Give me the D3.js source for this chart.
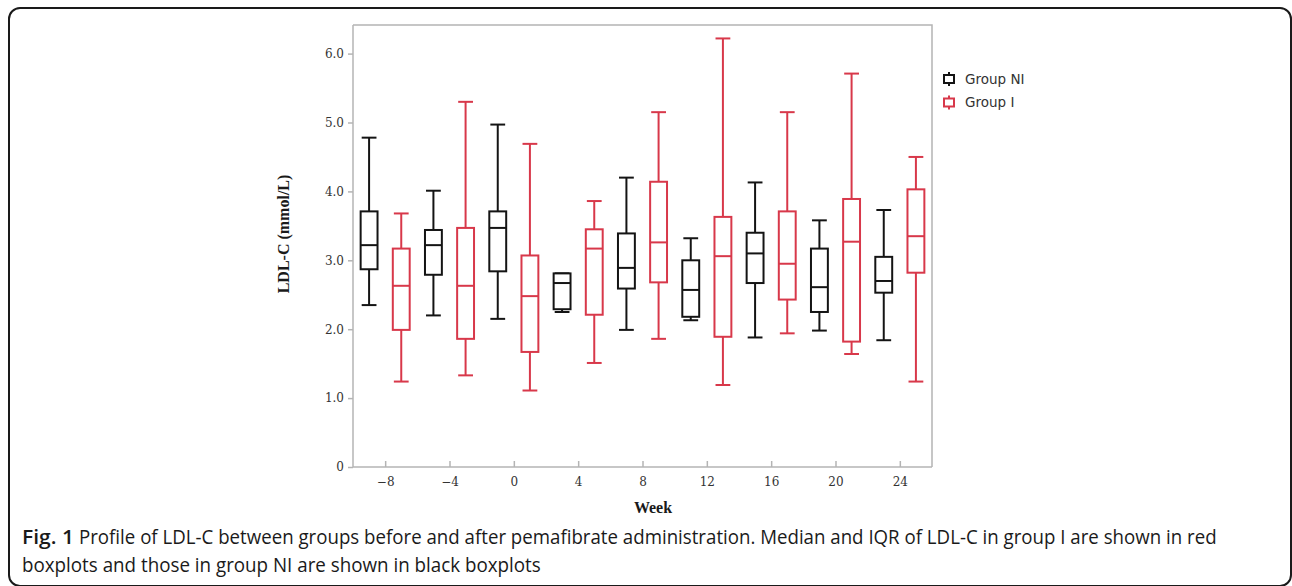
<!DOCTYPE html>
<html>
<head>
<meta charset="utf-8">
<script src="https://cdn.jsdelivr.net/npm/d3@7"></script>
<style>
  html, body { margin: 0; padding: 0; background: #fff; }
  svg { display: block; }
</style>
</head>
<body>
<div id="chart"></div>
<script>
// Weeks on the x axis
const weeks = [-8, -4, 0, 4, 8, 12, 16, 20, 24];
const xTicks = [-8, -4, 0, 4, 8, 12, 16, 20, 24];
const yTicks = [0, 1, 2, 3, 4, 5, 6];

// Group NI (black): whisker low, Q1, median, Q3, whisker high
const niLow    = [2.35, 2.20, 2.15, 2.25, 1.99, 2.13, 1.88, 1.98, 1.84];
const niQ1     = [2.87, 2.79, 2.84, 2.29, 2.59, 2.18, 2.67, 2.25, 2.53];
const niMedian = [3.22, 3.22, 3.47, 2.67, 2.89, 2.57, 3.10, 2.61, 2.70];
const niQ3     = [3.71, 3.44, 3.71, 2.81, 3.39, 3.00, 3.40, 3.17, 3.05];
const niHigh   = [4.78, 4.01, 4.97, 2.81, 4.20, 3.32, 4.13, 3.58, 3.73];

// Group I (red)
const iLow    = [1.24, 1.33, 1.11, 1.51, 1.86, 1.19, 1.94, 1.64, 1.24];
const iQ1     = [1.99, 1.86, 1.67, 2.21, 2.68, 1.89, 2.43, 1.82, 2.82];
const iMedian = [2.63, 2.63, 2.48, 3.17, 3.26, 3.06, 2.95, 3.27, 3.35];
const iQ3     = [3.17, 3.47, 3.07, 3.45, 4.14, 3.63, 3.71, 3.89, 4.03];
const iHigh   = [3.68, 5.30, 4.69, 3.86, 5.15, 6.22, 5.15, 5.71, 4.50];

const groups = [
  { name: 'Group NI', color: '#141414', offset: -1, low: niLow, q1: niQ1, med: niMedian, q3: niQ3, high: niHigh },
  { name: 'Group I',  color: '#d8384a', offset: 1,  low: iLow,  q1: iQ1,  med: iMedian,  q3: iQ3,  high: iHigh }
];

const W = 1292, H = 586;
const plot = { left: 353, right: 932, top: 25, bottom: 467 };

const svg = d3.select('#chart').append('svg')
  .attr('width', W).attr('height', H);

// outer rounded frame
svg.append('rect')
  .attr('x', 9).attr('y', 8)
  .attr('width', 1282).attr('height', 578)
  .attr('rx', 11).attr('ry', 11)
  .attr('fill', 'none')
  .attr('stroke', '#1a1a1a')
  .attr('stroke-width', 2);

const x = d3.scaleLinear().domain([-10, 26]).range([plot.left, plot.right]);
const y = d3.scaleLinear().domain([0, 6]).range([plot.bottom, 53.6]);

const axisColor = '#b4b4b4';

// plot frame (top + right)
svg.append('path')
  .attr('d', `M${plot.left},${plot.top}H${plot.right}V${plot.bottom}`)
  .attr('fill', 'none').attr('stroke', axisColor).attr('stroke-width', 1.5);

// y axis
const yAxis = svg.append('g')
  .attr('transform', `translate(${plot.left},0)`)
  .call(d3.axisLeft(y).tickValues(yTicks).tickSize(5).tickPadding(4)
    .tickFormat(d => d === 0 ? '0' : d3.format('.1f')(d)));
yAxis.select('.domain').attr('d', `M0,${plot.top}V${plot.bottom}`);

// x axis, ticks pointing inward
const xAxis = svg.append('g')
  .attr('transform', `translate(0,${plot.bottom})`)
  .call(d3.axisBottom(x).tickValues(xTicks).tickSize(-6).tickPadding(10)
    .tickFormat(d => d < 0 ? '\u2212' + Math.abs(d) : d));
xAxis.select('.domain').attr('d', `M${plot.left},0H${plot.right}`);

[yAxis, xAxis].forEach(a => {
  a.select('.domain').attr('stroke', axisColor).attr('stroke-width', 1.5);
  a.selectAll('.tick line').attr('stroke', axisColor).attr('stroke-width', 1.5);
  a.selectAll('.tick text')
    .attr('fill', '#333')
    .style('font-family', '"DejaVu Serif", serif')
    .style('font-size', '12px');
});

// axis titles
svg.append('text')
  .attr('transform', 'translate(289,234) rotate(-90)')
  .attr('text-anchor', 'middle')
  .style('font-family', '"Liberation Serif", "Times New Roman", serif')
  .style('font-weight', 'bold')
  .style('font-size', '16px')
  .attr('fill', '#1a1a1a')
  .text('LDL-C (mmol/L)');

svg.append('text')
  .attr('x', 653).attr('y', 513)
  .attr('text-anchor', 'middle')
  .style('font-family', '"Liberation Serif", "Times New Roman", serif')
  .style('font-weight', 'bold')
  .style('font-size', '16px')
  .attr('fill', '#1a1a1a')
  .text('Week');

// boxplots
const boxW = 1.05, capW = 0.92;
groups.forEach(g => {
  const layer = svg.append('g')
    .attr('stroke', g.color)
    .attr('stroke-width', 2)
    .attr('fill', 'none');

  weeks.forEach((wk, i) => {
    const c = wk + g.offset;
    const cx = x(c);
    // whiskers
    layer.append('line')
      .attr('x1', cx).attr('x2', cx)
      .attr('y1', y(g.q3[i])).attr('y2', y(g.high[i]));
    layer.append('line')
      .attr('x1', cx).attr('x2', cx)
      .attr('y1', y(g.q1[i])).attr('y2', y(g.low[i]));
    // caps
    [g.high[i], g.low[i]].forEach(v => {
      layer.append('line')
        .attr('x1', x(c - capW / 2)).attr('x2', x(c + capW / 2))
        .attr('y1', y(v)).attr('y2', y(v));
    });
    // box
    layer.append('rect')
      .attr('x', x(c - boxW / 2))
      .attr('width', x(c + boxW / 2) - x(c - boxW / 2))
      .attr('y', y(g.q3[i]))
      .attr('height', y(g.q1[i]) - y(g.q3[i]))
      .attr('fill', '#fff');
    // median
    layer.append('line')
      .attr('x1', x(c - boxW / 2)).attr('x2', x(c + boxW / 2))
      .attr('y1', y(g.med[i])).attr('y2', y(g.med[i]));
  });
});

// legend
const legend = svg.append('g').attr('transform', 'translate(949,79)');
groups.forEach((g, i) => {
  const row = legend.append('g').attr('transform', `translate(0,${i * 23.5})`);
  row.append('line').attr('x1', 0).attr('x2', 0).attr('y1', -7).attr('y2', 7)
    .attr('stroke', g.color).attr('stroke-width', 2);
  row.append('rect').attr('x', -5).attr('y', -4).attr('width', 10).attr('height', 8)
    .attr('fill', '#fff').attr('stroke', g.color).attr('stroke-width', 2);
  row.append('text')
    .attr('x', 16).attr('y', 0).attr('dy', '0.35em')
    .style('font-family', '"DejaVu Sans", Verdana, sans-serif')
    .style('font-size', '13.5px')
    .attr('fill', '#333')
    .text(g.name);
});

// caption: condensed look by squeezing each line horizontally to its width
const capFont = '"Open Sans", "Noto Sans", sans-serif';
function captionLine(px, py, width, str, bold) {
  const t = svg.append('text')
    .attr('x', 0).attr('y', 0)
    .style('font-family', capFont)
    .style('font-weight', bold ? '600' : '400')
    .style('font-size', '20px')
    .attr('fill', '#1a1a1a')
    .text(str);
  const natural = t.node().getComputedTextLength();
  t.attr('transform', `translate(${px},${py}) scale(${width / natural},1)`);
}
captionLine(22, 544, 52, 'Fig. 1', true);
captionLine(79, 544, 1138, 'Profile of LDL-C between groups before and after pemafibrate administration. Median and IQR of LDL-C in group I are shown in red', false);
captionLine(22, 572, 519, 'boxplots and those in group NI are shown in black boxplots', false);
</script>
</body>
</html>
